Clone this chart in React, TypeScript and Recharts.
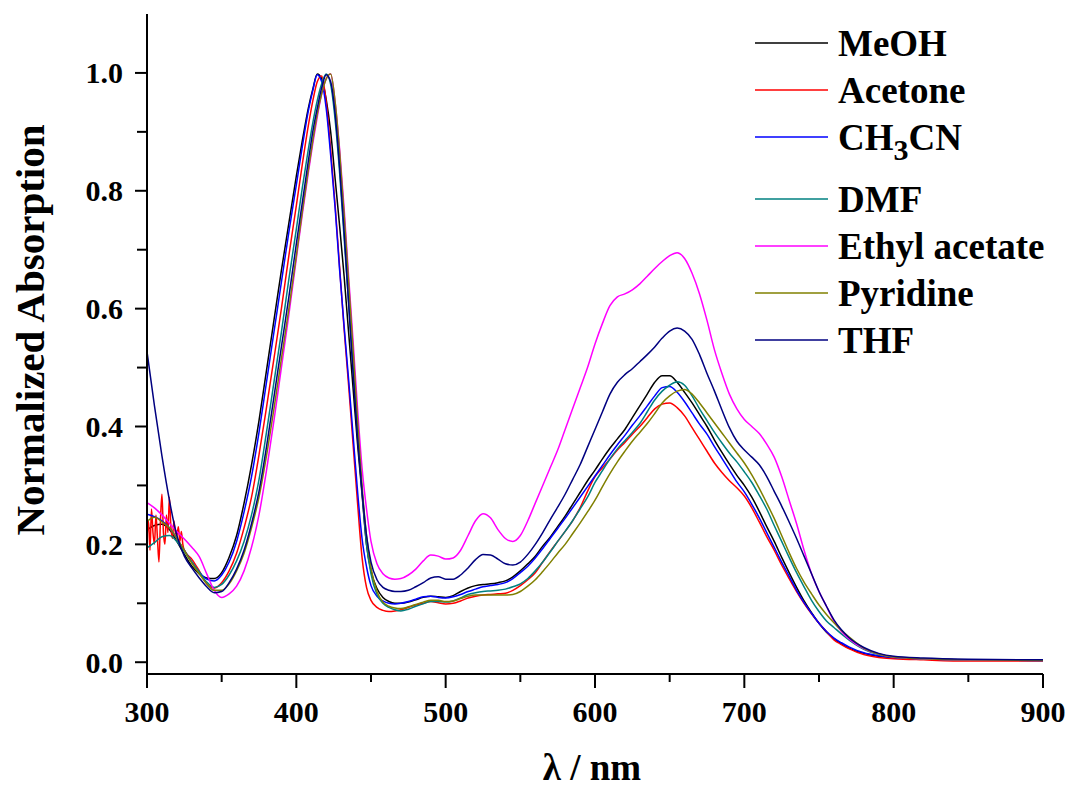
import React from 'react';
import { LineChart, Line, XAxis, YAxis, Legend, Label } from 'recharts';

// ---------- data ----------
const wavelengths = [
  300, 305, 310, 315, 320, 325, 330, 335, 340, 345, 350, 355, 360, 365, 370, 375, 380, 385, 390, 395, 400,
  404, 408, 411, 414, 417, 420, 423, 426, 429, 432, 435, 438, 441, 444, 447, 450,
  454, 458, 462, 466, 470,
  475, 480, 485, 490, 495, 500, 505, 510, 515, 520, 525, 530, 535, 540, 545, 550, 555, 560, 565, 570,
  575, 580, 585, 590, 595, 600, 605, 610, 615, 620, 625, 630, 635, 640, 645, 650, 655, 660, 665, 670,
  675, 680, 685, 690, 695, 700, 705, 710, 715, 720, 725, 730, 735, 740, 745, 750, 755, 760, 765, 770,
  780, 790, 800, 820, 850, 900,
];

const meoh = [
  0.224, 0.232, 0.234, 0.225, 0.205, 0.183, 0.163, 0.15, 0.143, 0.142, 0.152, 0.178, 0.215, 0.27, 0.335, 0.41, 0.495, 0.58, 0.665, 0.745, 0.825,
  0.885, 0.94, 0.972, 0.998, 0.99, 0.955, 0.9, 0.82, 0.74, 0.655, 0.56, 0.465, 0.37, 0.285, 0.2, 0.155,
  0.125, 0.11, 0.103, 0.1, 0.1,
  0.102, 0.106, 0.11, 0.112, 0.111, 0.11, 0.113, 0.12, 0.126, 0.13, 0.132, 0.133, 0.135, 0.138, 0.145, 0.155, 0.167, 0.18, 0.197, 0.212,
  0.23, 0.248, 0.268, 0.288, 0.308, 0.326, 0.345, 0.363, 0.379, 0.395, 0.415, 0.435, 0.455, 0.475, 0.486, 0.486, 0.475, 0.458, 0.44, 0.42,
  0.4, 0.377, 0.356, 0.336, 0.317, 0.3, 0.28, 0.256, 0.23, 0.205, 0.178, 0.152, 0.127, 0.104, 0.084, 0.066, 0.051, 0.04, 0.031, 0.024,
  0.015, 0.01, 0.008, 0.006, 0.004, 0.003,
];

const acetoneNoiseNm = [
  300, 301, 302, 303, 304, 305, 306, 307, 308, 309, 310, 311, 312, 313, 314, 315, 316, 317, 318, 319, 320, 321, 322, 323, 324, 325,
];
const acetoneNoise = [
  0.21, 0.24, 0.19, 0.26, 0.22, 0.2, 0.25, 0.21, 0.17, 0.24, 0.285, 0.22, 0.2, 0.25, 0.22, 0.28, 0.23, 0.21, 0.24, 0.22, 0.215, 0.23, 0.205, 0.222, 0.2, 0.19,
];
// acetone on the common grid from 330 nm onwards
const acetoneMain = [
  0.175, 0.155, 0.133, 0.126, 0.135, 0.155, 0.185, 0.228, 0.28, 0.352, 0.432, 0.515, 0.6, 0.69, 0.775,
  0.845, 0.91, 0.952, 0.985, 0.995, 0.95, 0.87, 0.775, 0.67, 0.565, 0.47, 0.37, 0.27, 0.178, 0.127, 0.105,
  0.093, 0.088, 0.086, 0.087, 0.089,
  0.093, 0.097, 0.1, 0.103, 0.101, 0.099, 0.1, 0.104, 0.109, 0.112, 0.114, 0.115, 0.116, 0.117, 0.122, 0.13, 0.14, 0.152, 0.17, 0.188,
  0.205, 0.222, 0.24, 0.262, 0.29, 0.315, 0.33, 0.345, 0.36, 0.373, 0.387, 0.4, 0.415, 0.43, 0.438, 0.44, 0.432, 0.418, 0.398, 0.378,
  0.358, 0.338, 0.322, 0.308, 0.296, 0.282, 0.262, 0.238, 0.213, 0.19, 0.165, 0.142, 0.12, 0.1, 0.082, 0.066, 0.052, 0.038, 0.03, 0.023,
  0.013, 0.008, 0.006, 0.004, 0.002, 0.002,
];

const ch3cn = [
  0.251, 0.247, 0.24, 0.228, 0.21, 0.19, 0.17, 0.153, 0.141, 0.138, 0.148, 0.17, 0.205, 0.255, 0.315, 0.39, 0.475, 0.56, 0.645, 0.73, 0.81,
  0.875, 0.935, 0.97, 0.997, 0.985, 0.94, 0.86, 0.77, 0.665, 0.57, 0.48, 0.385, 0.29, 0.21, 0.162, 0.13,
  0.112, 0.104, 0.1, 0.099, 0.1,
  0.103, 0.107, 0.111, 0.112, 0.11, 0.109, 0.111, 0.115, 0.12, 0.124, 0.128, 0.13, 0.132, 0.135, 0.142, 0.152, 0.163, 0.177, 0.193, 0.21,
  0.227, 0.244, 0.262, 0.28, 0.298, 0.316, 0.334, 0.352, 0.369, 0.385, 0.402, 0.418, 0.435, 0.452, 0.466, 0.468, 0.458, 0.442, 0.423, 0.404,
  0.387, 0.366, 0.346, 0.326, 0.306, 0.289, 0.268, 0.245, 0.22, 0.195, 0.17, 0.146, 0.122, 0.101, 0.083, 0.066, 0.052, 0.041, 0.033, 0.026,
  0.016, 0.011, 0.008, 0.006, 0.004, 0.003,
];

const dmf = [
  0.194, 0.203, 0.213, 0.215, 0.205, 0.188, 0.17, 0.153, 0.136, 0.127, 0.132, 0.148, 0.172, 0.205, 0.25, 0.31, 0.39, 0.475, 0.56, 0.65, 0.735,
  0.805, 0.87, 0.915, 0.953, 0.982, 0.998, 0.98, 0.92, 0.83, 0.72, 0.61, 0.5, 0.39, 0.29, 0.2, 0.15,
  0.115, 0.1, 0.093, 0.089, 0.087,
  0.09, 0.095, 0.099, 0.103, 0.103, 0.102, 0.104, 0.109, 0.115, 0.118, 0.12, 0.121, 0.122, 0.124, 0.128, 0.133, 0.142, 0.155, 0.17, 0.187,
  0.205, 0.222, 0.24, 0.26, 0.28, 0.305, 0.325, 0.345, 0.362, 0.376, 0.39, 0.405, 0.425, 0.445, 0.46, 0.47, 0.476, 0.47, 0.452, 0.43,
  0.41, 0.39, 0.372, 0.355, 0.34, 0.323, 0.305, 0.283, 0.26, 0.232, 0.205, 0.178, 0.152, 0.128, 0.105, 0.086, 0.07, 0.059, 0.048, 0.038,
  0.022, 0.013, 0.009, 0.006, 0.004, 0.003,
];

const ethylAcetate = [
  0.271, 0.262, 0.25, 0.236, 0.222, 0.209, 0.195, 0.179, 0.15, 0.122, 0.11, 0.116, 0.129, 0.155, 0.195, 0.25, 0.325, 0.41, 0.5, 0.59, 0.685,
  0.76, 0.83, 0.88, 0.925, 0.965, 0.99, 0.998, 0.95, 0.87, 0.77, 0.655, 0.545, 0.43, 0.33, 0.26, 0.205,
  0.167, 0.15, 0.143, 0.141, 0.142,
  0.148, 0.158, 0.172, 0.182, 0.18, 0.175, 0.177, 0.19, 0.215, 0.24, 0.252, 0.245, 0.225, 0.21, 0.205, 0.215, 0.24, 0.27, 0.3, 0.33,
  0.36, 0.395, 0.43, 0.465, 0.5, 0.54, 0.575, 0.605, 0.62, 0.625, 0.632, 0.642, 0.655, 0.668, 0.68, 0.69, 0.695, 0.685, 0.66, 0.625,
  0.58, 0.53, 0.49, 0.455, 0.43, 0.412, 0.4, 0.388, 0.37, 0.348, 0.315, 0.275, 0.235, 0.19, 0.15, 0.12, 0.095, 0.07, 0.052, 0.04,
  0.023, 0.014, 0.009, 0.006, 0.004, 0.003,
];

const pyridine = [
  0.239, 0.246, 0.238, 0.228, 0.21, 0.19, 0.168, 0.15, 0.133, 0.122, 0.122, 0.133, 0.155, 0.185, 0.228, 0.28, 0.35, 0.43, 0.515, 0.6, 0.69,
  0.765, 0.835, 0.885, 0.93, 0.965, 0.99, 0.998, 0.95, 0.865, 0.76, 0.645, 0.53, 0.41, 0.3, 0.215, 0.16,
  0.12, 0.102, 0.095, 0.092, 0.091,
  0.094, 0.098, 0.102, 0.105, 0.105, 0.103, 0.104, 0.108, 0.112, 0.114, 0.114, 0.114, 0.114, 0.114, 0.115, 0.12, 0.129, 0.14, 0.154, 0.169,
  0.185, 0.2, 0.218, 0.236, 0.255, 0.275, 0.298, 0.32, 0.34, 0.358, 0.375, 0.39, 0.405, 0.422, 0.44, 0.452, 0.46, 0.463, 0.455, 0.44,
  0.423, 0.406, 0.389, 0.372, 0.355, 0.338, 0.318, 0.295, 0.27, 0.244, 0.215, 0.186, 0.159, 0.136, 0.116, 0.097, 0.081, 0.067, 0.054, 0.043,
  0.024, 0.014, 0.009, 0.006, 0.004, 0.003,
];

const thf = [
  0.527, 0.435, 0.35, 0.275, 0.215, 0.18, 0.16, 0.143, 0.128, 0.118, 0.12, 0.135, 0.158, 0.19, 0.235, 0.29, 0.365, 0.45, 0.535, 0.62, 0.71,
  0.78, 0.85, 0.9, 0.94, 0.975, 0.997, 0.985, 0.93, 0.84, 0.73, 0.61, 0.49, 0.38, 0.29, 0.215, 0.17,
  0.14, 0.127, 0.122, 0.12, 0.12,
  0.122, 0.128, 0.135, 0.143, 0.145, 0.141, 0.141, 0.148, 0.16, 0.174, 0.183, 0.182, 0.175, 0.167, 0.165, 0.17, 0.183, 0.2, 0.22, 0.242,
  0.263, 0.285, 0.31, 0.335, 0.365, 0.395, 0.425, 0.455, 0.475, 0.488, 0.498, 0.51, 0.522, 0.535, 0.55, 0.562, 0.567, 0.562, 0.548, 0.522,
  0.49, 0.46, 0.428, 0.398, 0.375, 0.36, 0.348, 0.335, 0.315, 0.29, 0.265, 0.238, 0.21, 0.18, 0.15, 0.12, 0.095, 0.072, 0.055, 0.042,
  0.025, 0.015, 0.01, 0.007, 0.005, 0.004,
];

const seriesNames = ['MeOH', 'Acetone', 'CH3CN', 'DMF', 'Ethyl acetate', 'Pyridine', 'THF'];
const seriesColors = ['#000000', '#FF0000', '#0000FF', '#008080', '#FF00FF', '#808000', '#000080'];

const xTicks = [300, 350, 400, 450, 500, 550, 600, 650, 700, 750, 800, 850, 900];
const yTicks = [0, 0.1, 0.2, 0.3, 0.4, 0.5, 0.6, 0.7, 0.8, 0.9, 1.0];

const xTitle = 'λ / nm';
const yTitle = 'Normalized Absorption';

// ---------- build series ----------
const toPoints = (nm: number[], vals: number[]) => nm.map((x, i) => ({ nm: x, a: vals[i] }));
const acetoneNm = [...acetoneNoiseNm, ...wavelengths.filter((w) => w >= 330)];
const acetoneVals = [...acetoneNoise, ...acetoneMain];

const seriesData = [
  toPoints(wavelengths, meoh),
  toPoints(acetoneNm, acetoneVals),
  toPoints(wavelengths, ch3cn),
  toPoints(wavelengths, dmf),
  toPoints(wavelengths, ethylAcetate),
  toPoints(wavelengths, pyridine),
  toPoints(wavelengths, thf),
];

// ---------- styling ----------
const FONT = "'Liberation Serif', 'Times New Roman', serif";
const X_TICK_SIZE = 10;
const Y_TICK_SIZE = 10;

const XTick = (props: any) => {
  const { x, y, payload } = props;
  const axisY = y - X_TICK_SIZE;
  const v = payload.value as number;
  const major = v % 100 === 0;
  return (
    <g>
      <line x1={x} x2={x} y1={axisY} y2={axisY + (major ? 14 : 8)} stroke="#000" strokeWidth={2} />
      {major && (
        <text x={x} y={axisY + 48} textAnchor="middle" fontFamily={FONT} fontWeight="bold" fontSize={30} fill="#000">
          {v}
        </text>
      )}
    </g>
  );
};

const YTick = (props: any) => {
  const { x, y, payload } = props;
  const axisX = x + Y_TICK_SIZE;
  const v = payload.value as number;
  const major = Math.round(v * 10) % 2 === 0;
  return (
    <g>
      <line x1={axisX - (major ? 12 : 10)} x2={axisX} y1={y} y2={y} stroke="#000" strokeWidth={2} />
      {major && (
        <text x={axisX - 24} y={y} dy="0.35em" textAnchor="end" fontFamily={FONT} fontWeight="bold" fontSize={30} fill="#000">
          {v.toFixed(1)}
        </text>
      )}
    </g>
  );
};

const YTitle = (props: any) => {
  const vb = props.viewBox || {};
  const cx = vb.x + 44;
  const cy = vb.y + vb.height / 2 - 14;
  return (
    <text
      x={cx}
      y={cy}
      transform={`rotate(-90, ${cx}, ${cy})`}
      textAnchor="middle"
      fontFamily={FONT}
      fontWeight="bold"
      fontSize={41}
      fill="#000"
    >
      {yTitle}
    </text>
  );
};

const XTitle = (props: any) => {
  const vb = props.viewBox || {};
  return (
    <text
      x={vb.x + vb.width / 2 - 3}
      y={vb.y + 106}
      textAnchor="middle"
      fontFamily={FONT}
      fontWeight="bold"
      fontSize={37}
      fill="#000"
    >
      {xTitle}
    </text>
  );
};

const LegendContent = () => (
  <svg width={320} height={370} style={{ overflow: 'visible' }}>
    {seriesNames.map((name, i) => {
      const cy = 43 + i * 47 + (i >= 3 ? 15 : 0);
      const textProps = {
        x: 88,
        y: cy + 12.5,
        fontFamily: FONT,
        fontWeight: 'bold' as const,
        fontSize: 37,
        fill: '#000',
      };
      return (
        <g key={name}>
          <line x1={5} x2={78} y1={cy} y2={cy} stroke={seriesColors[i]} strokeWidth={1.6} />
          {name === 'CH3CN' ? (
            <text {...textProps}>
              CH
              <tspan fontSize={30} dy={10}>
                3
              </tspan>
              <tspan dy={-10}>CN</tspan>
            </text>
          ) : (
            <text {...textProps}>{name}</text>
          )}
        </g>
      );
    })}
  </svg>
);

export default function App() {
  return (
    <div style={{ position: 'absolute', left: 0, top: 0, width: 1072, height: 792, background: '#fff' }}>
      <LineChart width={1072} height={792} margin={{ top: 14, right: 29, bottom: 0, left: 0 }}>
        <XAxis
          type="number"
          dataKey="nm"
          domain={[300, 900]}
          ticks={xTicks}
          interval={0}
          height={118}
          tickSize={X_TICK_SIZE}
          tickMargin={0}
          tickLine={false}
          tick={<XTick />}
          axisLine={{ stroke: '#000', strokeWidth: 2 }}
          allowDataOverflow
        >
          <Label content={<XTitle />} />
        </XAxis>
        <YAxis
          type="number"
          domain={[-0.02, 1.1]}
          ticks={yTicks}
          interval={0}
          width={147}
          tickSize={Y_TICK_SIZE}
          tickMargin={0}
          tickLine={false}
          tick={<YTick />}
          axisLine={{ stroke: '#000', strokeWidth: 2 }}
          allowDataOverflow
        >
          <Label content={<YTitle />} />
        </YAxis>
        <Legend
          layout="horizontal"
          verticalAlign="middle"
          align="center"
          wrapperStyle={{ position: 'absolute', left: 750, top: 0, width: 320, height: 370 }}
          content={<LegendContent />}
        />
        {seriesNames.map((name, i) => (
          <Line
            key={name}
            name={name}
            data={seriesData[i]}
            dataKey="a"
            type="monotone"
            stroke={seriesColors[i]}
            strokeWidth={1.5}
            dot={false}
            activeDot={false}
            isAnimationActive={false}
          />
        ))}
      </LineChart>
    </div>
  );
}
